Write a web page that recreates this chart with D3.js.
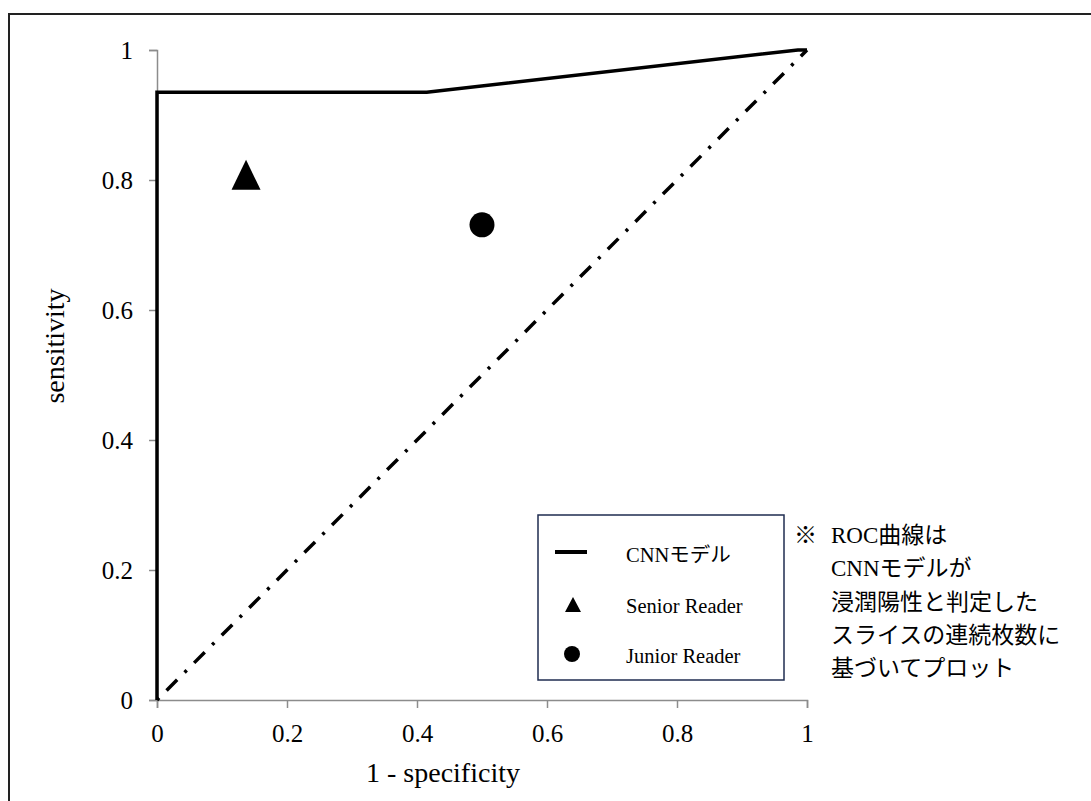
<!DOCTYPE html>
<html>
<head>
<meta charset="utf-8">
<script src="https://cdn.jsdelivr.net/npm/d3@7"></script>
<style>
  body { margin: 0; background: #fff; }
</style>
</head>
<body>
<div id="the_chart"></div>
<script>
// ROC curve of the CNN model (1 - specificity, sensitivity)
var rocFpr = [0, 0, 0.415, 0.986, 1];
var rocTpr = [0, 0.935, 0.935, 1, 1];

// chance diagonal
var diagFpr = [0, 1];
var diagTpr = [0, 1];

// reader operating points
var readerNames = ["Senior Reader", "Junior Reader"];
var readerFpr = [0.137, 0.5];
var readerTpr = [0.808, 0.731];

var tickValues = [0, 0.2, 0.4, 0.6, 0.8, 1];
var tickLabels = ["0", "0.2", "0.4", "0.6", "0.8", "1"];

var legendLabels = ["CNNモデル", "Senior Reader", "Junior Reader"];
var noteLines = ["ROC曲線は", "CNNモデルが", "浸潤陽性と判定した", "スライスの連続枚数に", "基づいてプロット"];

var serif = "'Liberation Serif', 'Times New Roman', serif";
var cjk = "'Noto Sans CJK JP', sans-serif";

var w = 1091;
var h = 801;

var svg = d3.select("#the_chart")
    .append("svg")
    .attr("width", w)
    .attr("height", h);

// outer frame (runs off the right and bottom edge)
svg.append("rect")
    .attr("x", 9)
    .attr("y", 14)
    .attr("width", 1200)
    .attr("height", 900)
    .attr("fill", "none")
    .attr("stroke", "#222")
    .attr("stroke-width", 2);

var x = d3.scaleLinear().domain([0, 1]).range([157, 807]);
var y = d3.scaleLinear().domain([0, 1]).range([700, 50]);

// axes
var xAxis = d3.axisBottom(x)
    .tickValues(tickValues)
    .tickSize(8)
    .tickFormat(function (d, i) { return tickLabels[i]; });

var yAxis = d3.axisLeft(y)
    .tickValues(tickValues)
    .tickSize(8)
    .tickFormat(function (d, i) { return tickLabels[i]; });

var gx = svg.append("g")
    .attr("transform", "translate(0," + y(0) + ")")
    .call(xAxis);
gx.select(".domain").attr("stroke", "#8c8c8c").attr("stroke-width", 1.5);
gx.selectAll(".tick line").attr("stroke", "#8c8c8c").attr("stroke-width", 1.5);
gx.selectAll(".tick text")
    .attr("font-size", 25)
    .attr("dy", null)
    .attr("y", 42);

var gy = svg.append("g")
    .attr("transform", "translate(" + x(0) + ",0)")
    .call(yAxis);
gy.select(".domain").attr("stroke", "#8c8c8c").attr("stroke-width", 1.5);
gy.selectAll(".tick line").attr("stroke", "#8c8c8c").attr("stroke-width", 1.5);
gy.selectAll(".tick text")
    .attr("font-size", 25)
    .attr("x", -24)
    .attr("dy", "0.34em");

// axis titles
svg.append("text")
    .attr("x", 443)
    .attr("y", 782)
    .attr("text-anchor", "middle")
    .attr("font-size", 28)
    .text("1 - specificity");

svg.append("text")
    .attr("transform", "translate(64,346) rotate(-90)")
    .attr("text-anchor", "middle")
    .attr("font-size", 28)
    .text("sensitivity");

// diagonal dash-dot line
var diagLine = d3.line()
    .x(function (d, i) { return x(diagFpr[i]); })
    .y(function (d, i) { return y(diagTpr[i]); });

svg.append("path")
    .attr("d", diagLine(diagFpr))
    .attr("fill", "none")
    .attr("stroke", "#000")
    .attr("stroke-width", 3.5)
    .attr("stroke-dasharray", "3,10.5,15,10.5");

// ROC curve
var rocLine = d3.line()
    .x(function (d, i) { return x(rocFpr[i]); })
    .y(function (d, i) { return y(rocTpr[i]); });

svg.append("path")
    .attr("d", rocLine(rocFpr))
    .attr("fill", "none")
    .attr("stroke", "#000")
    .attr("stroke-width", 3.5)
    .attr("stroke-linejoin", "miter");

// reader points
function triangle(cx, cy, wd, ht) {
    return "M" + cx + "," + (cy - ht / 2) +
        "L" + (cx + wd / 2) + "," + (cy + ht / 2) +
        "L" + (cx - wd / 2) + "," + (cy + ht / 2) + "Z";
}

svg.append("path")
    .attr("d", triangle(x(readerFpr[0]), y(readerTpr[0]), 29, 30))
    .attr("fill", "#000");

svg.append("circle")
    .attr("cx", x(readerFpr[1]))
    .attr("cy", y(readerTpr[1]))
    .attr("r", 12.5)
    .attr("fill", "#000");

// split a label into latin / japanese runs so each gets its own font
function runs(sel) {
    sel.each(function (d) {
        var t = d3.select(this);
        var parts = d.match(/[\x00-\x7f]+|[^\x00-\x7f]+/g);
        parts.forEach(function (p) {
            t.append("tspan")
                .style("font-family", /[\x00-\x7f]/.test(p) ? serif : cjk)
                .text(p);
        });
    });
}

// legend
var lg = svg.append("g");
lg.append("rect")
    .attr("x", 538)
    .attr("y", 515)
    .attr("width", 246)
    .attr("height", 165)
    .attr("fill", "#fff")
    .attr("stroke", "#1f2d50")
    .attr("stroke-width", 1.5);

lg.append("line")
    .attr("x1", 555).attr("x2", 587)
    .attr("y1", 552).attr("y2", 552)
    .attr("stroke", "#000")
    .attr("stroke-width", 4);

lg.append("path")
    .attr("d", triangle(573, 604.5, 16, 15))
    .attr("fill", "#000");

lg.append("circle")
    .attr("cx", 572)
    .attr("cy", 654)
    .attr("r", 8)
    .attr("fill", "#000");

// one font stack for the plain labels
svg.selectAll("text")
    .style("font-family", serif)
    .style("fill", "#000");

lg.selectAll("text.lab")
    .data(legendLabels)
    .enter()
    .append("text")
    .attr("class", "lab")
    .attr("x", 626)
    .attr("y", function (d, i) { return 562 + i * 50.5; })
    .attr("font-size", 20.5)
    .style("fill", "#000")
    .call(runs);

// note
svg.append("text")
    .attr("x", 794)
    .attr("y", 543)
    .attr("font-size", 23)
    .style("font-family", cjk)
    .style("fill", "#000")
    .text("※");

svg.selectAll("text.note")
    .data(noteLines)
    .enter()
    .append("text")
    .attr("class", "note")
    .attr("x", 831)
    .attr("y", function (d, i) { return 543 + i * 33.3; })
    .attr("font-size", 23)
    .style("fill", "#000")
    .call(runs);
</script>
</body>
</html>
